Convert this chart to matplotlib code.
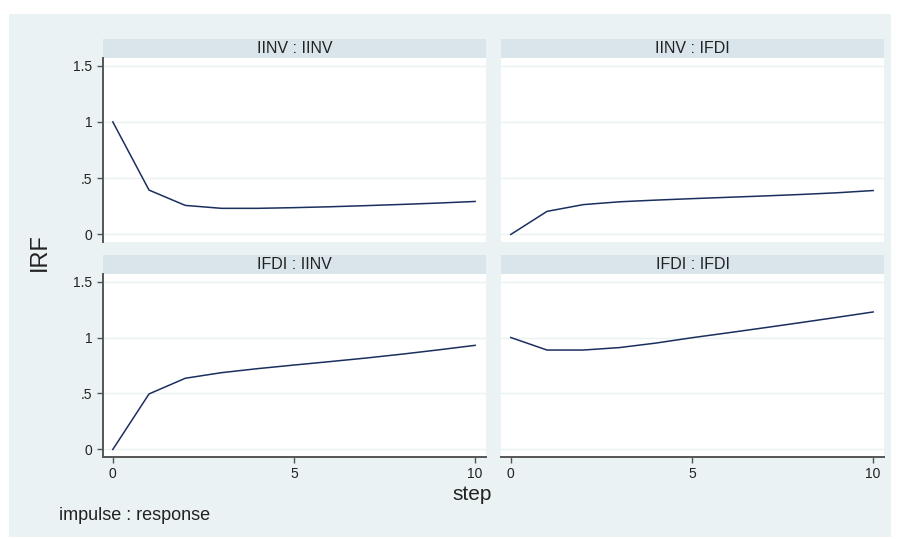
import matplotlib
matplotlib.use('Agg')
import matplotlib.pyplot as plt
from matplotlib.patches import Rectangle

plt.rcParams['font.family'] = ['Liberation Sans', 'DejaVu Sans']

# IRF values, steps 0..10
steps = list(range(11))
iinv_iinv = [1.0, 0.394, 0.258, 0.232, 0.232, 0.238, 0.246, 0.256, 0.267, 0.279, 0.293]
iinv_ifdi = [0.0, 0.205, 0.265, 0.290, 0.305, 0.318, 0.330, 0.342, 0.355, 0.370, 0.390]
ifdi_iinv = [0.0, 0.496, 0.636, 0.686, 0.722, 0.754, 0.785, 0.817, 0.852, 0.890, 0.930]
ifdi_ifdi = [1.0, 0.888, 0.888, 0.910, 0.950, 0.998, 1.042, 1.087, 1.133, 1.180, 1.228]

titles = ['IINV : IINV', 'IINV : IFDI', 'IFDI : IINV', 'IFDI : IFDI']
series = [iinv_iinv, iinv_ifdi, ifdi_iinv, ifdi_ifdi]
yticks = [0, 0.5, 1, 1.5]
ytick_labels = ['0', '.5', '1', '1.5']
xticks = [0, 5, 10]

W, H = 901, 539
BG = '#EAF2F3'
STRIP = '#D9E5EA'
LINE = '#1A2F5E'
AXC = '#555555'


def rect(x0, y0, x1, y1):
    # pixel box (top-left origin) -> figure fraction rect
    return [x0 / W, 1 - y1 / H, (x1 - x0) / W, (y1 - y0) / H]


fig = plt.figure(figsize=(W / 100, H / 100), dpi=100)
fig.patch.set_facecolor('white')
fig.patches.append(Rectangle((9 / W, 1 - 537 / H), (891 - 9) / W, (537 - 14) / H,
                             transform=fig.transFigure, facecolor=BG,
                             edgecolor='none', zorder=-10))

cols = [(103, 486), (501, 884)]
rows = [(39, 58, 242), (255, 274, 457)]

for i in range(4):
    r, c = divmod(i, 2)
    x0, x1 = cols[c]
    s0, p0, p1 = rows[r]

    # strip with panel title
    sax = fig.add_axes(rect(x0, s0, x1, p0))
    sax.set_facecolor(STRIP)
    sax.set_xticks([])
    sax.set_yticks([])
    for sp in sax.spines.values():
        sp.set_visible(False)
    sax.text(0.5, 0.5, titles[i], ha='center', va='center', fontsize=11.5,
             color='#222222', transform=sax.transAxes)

    ax = fig.add_axes(rect(x0, p0, x1, p1))
    ax.set_facecolor('white')
    ax.plot(steps, series[i], color=LINE, linewidth=1.1, zorder=3)
    ax.set_xlim(-0.27, 10.3)
    ax.set_ylim(-0.067, 1.567)
    ax.set_yticks(yticks)
    ax.set_xticks(xticks)
    ax.grid(axis='y', color=BG, linewidth=1.0)
    ax.set_axisbelow(True)
    for sp in ['top', 'right']:
        ax.spines[sp].set_visible(False)
    for sp in ['left', 'bottom']:
        ax.spines[sp].set_color(AXC)
        ax.spines[sp].set_linewidth(1.4)
    ax.spines['left'].set_visible(c == 0)
    ax.spines['bottom'].set_visible(r == 1)
    ax.tick_params(axis='both', colors=AXC, labelcolor='#222222',
                   labelsize=10, length=4, width=1.0)
    if c == 0:
        ax.set_yticklabels(ytick_labels)
    else:
        ax.tick_params(axis='y', left=False, labelleft=False)
    if r == 0:
        ax.tick_params(axis='x', bottom=False, labelbottom=False)

fig.text(40 / W, 1 - 252 / H, 'IRF', rotation=90, ha='center', va='center',
         fontsize=17, color='#222222')
fig.text(472 / W, 1 - 494 / H, 'step', ha='center', va='center',
         fontsize=15, color='#222222')
fig.text(59 / W, 1 - 515 / H, 'impulse : response', ha='left', va='center',
         fontsize=13, color='#222222')

fig.savefig('out.png', dpi=100, facecolor=fig.get_facecolor())
